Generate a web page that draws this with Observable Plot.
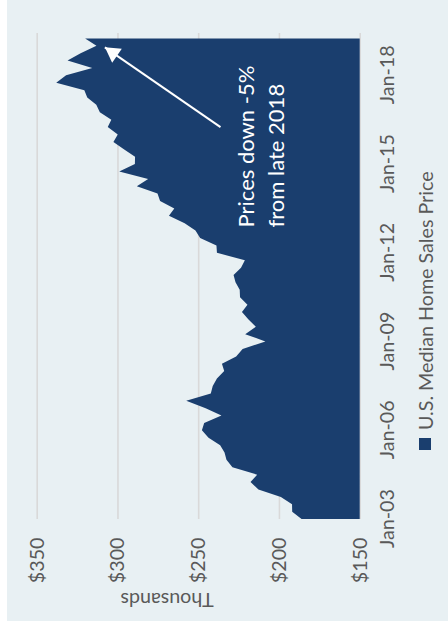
<!DOCTYPE html>
<html><head><meta charset="utf-8">
<script src="https://cdn.jsdelivr.net/npm/d3@7"></script>
<script src="https://cdn.jsdelivr.net/npm/@observablehq/plot@0.6"></script>
<style>
html,body{margin:0;padding:0;background:#fff;overflow:hidden;width:448px;height:640px}
#rot{position:absolute;left:0;top:0;width:640px;height:448px;transform-origin:0 0;transform:translateY(640px) rotate(-90deg);background:#fff}
#panel{position:absolute;left:19px;top:7px;width:621px;height:441px;background:#e8f0f3;font-family:Lato,sans-serif;color:#595959}
#chart{position:absolute;left:0;top:0}
#legend{position:absolute;left:171px;top:406px;height:24px;display:flex;align-items:center;font-size:19.7px;white-space:nowrap}
#legend .sw{display:inline-block;width:12px;height:12px;background:#1a3e6e;margin-right:8px}
</style></head><body>
<div id="rot"><div id="panel"><div id="chart"></div><div id="legend"><span class="sw"></span><span id="legtext"></span></div></div></div>
<script>
const quarters = [
  "2003-01-01","2003-04-01","2003-07-01","2003-10-01",
  "2004-01-01","2004-04-01","2004-07-01","2004-10-01",
  "2005-01-01","2005-04-01","2005-07-01","2005-10-01",
  "2006-01-01","2006-04-01","2006-07-01","2006-10-01",
  "2007-01-01","2007-04-01","2007-07-01","2007-10-01",
  "2008-01-01","2008-04-01","2008-07-01","2008-10-01",
  "2009-01-01","2009-04-01","2009-07-01","2009-10-01",
  "2010-01-01","2010-04-01","2010-07-01","2010-10-01",
  "2011-01-01","2011-04-01","2011-07-01","2011-10-01",
  "2012-01-01","2012-04-01","2012-07-01","2012-10-01",
  "2013-01-01","2013-04-01","2013-07-01","2013-10-01",
  "2014-01-01","2014-04-01","2014-07-01","2014-10-01",
  "2015-01-01","2015-04-01","2015-07-01","2015-10-01",
  "2016-01-01","2016-04-01","2016-07-01","2016-10-01",
  "2017-01-01","2017-04-01","2017-07-01","2017-10-01",
  "2018-01-01","2018-04-01","2018-07-01","2018-10-01",
  "2019-01-01","2019-04-01"
];
const prices = [
  186.0, 191.8, 191.9, 198.8,
  212.7, 217.6, 213.5, 228.8,
  232.5, 233.7, 236.4, 243.6,
  247.7, 246.3, 235.6, 245.4,
  257.4, 242.2, 241.0, 238.4,
  233.9, 235.3, 226.5, 222.5,
  208.4, 220.9, 214.3, 219.0,
  222.9, 219.5, 224.1, 224.3,
  226.9, 228.1, 223.5, 221.1,
  238.4, 238.7, 248.8, 251.7,
  258.4, 268.1, 264.8, 273.6,
  275.2, 288.0, 281.0, 298.9,
  289.2, 289.1, 295.8, 302.5,
  299.8, 306.0, 303.8, 310.9,
  313.1, 318.7, 320.5, 337.9,
  331.8, 315.6, 330.9, 322.8,
  313.0, 320.0
];
const seriesName = "U.S. Median Home Sales Price";
const tickDates = ["2003-01-01","2006-01-01","2009-01-01","2012-01-01","2015-01-01","2018-01-01"];
const tickLabels = ["Jan-03","Jan-06","Jan-09","Jan-12","Jan-15","Jan-18"];
const valueTicks = [150, 200, 250, 300, 350];
const valueLabels = ["$150","$200","$250","$300","$350"];
const yTitle = "Thousands";
const noteLines = ["Prices down -5%", "from late 2018"];
const noteAt = {date: "2012-11-03", value: 197.3};
const arrowFrom = {date: "2016-03-25", value: 236.5};
const arrowTo = {date: "2018-12-06", value: 308.1};

const blue = "#1a3e6e";
const grey = "#595959";
const fs = 19.7;

const data = quarters.map((q, i) => ({date: new Date(q), value: prices[i]}));
const xTicks = tickDates.map(d => new Date(d));
const xLabel = new Map(xTicks.map((d, i) => [+d, tickLabels[i]]));
const yLabel = new Map(valueTicks.map((v, i) => [v, valueLabels[i]]));
const arrows = [{x1: new Date(arrowFrom.date), y1: arrowFrom.value, x2: new Date(arrowTo.date), y2: arrowTo.value}];
const notes = [{date: new Date(noteAt.date), value: noteAt.value, text: noteLines.join("\n")}];

document.getElementById("legtext").textContent = seriesName;

const chart = Plot.plot({
  width: 621,
  height: 400,
  marginLeft: 102,
  marginRight: 33,
  marginTop: 29.7,
  marginBottom: 47.3,
  style: {fontFamily: "Lato, sans-serif", fontSize: fs + "px", color: grey, background: "transparent", overflow: "visible"},
  x: {type: "utc", domain: [new Date("2003-01-01"), new Date("2019-06-07")]},
  y: {domain: [150, 350]},
  marks: [
    Plot.gridY(valueTicks, {stroke: "#d9d9d9", strokeOpacity: 1, strokeWidth: 1.6}),
    Plot.areaY(data, {x: "date", y1: 150, y2: "value", fill: blue}),
    Plot.axisY(valueTicks, {tickSize: 0, tickPadding: 19, tickFormat: d => yLabel.get(d), label: null, fill: grey, fontSize: fs}),
    Plot.axisX(xTicks, {tickSize: 0, tickPadding: 20, tickFormat: d => xLabel.get(+d), label: null, fill: grey, fontSize: fs}),
    Plot.text([yTitle], {frameAnchor: "left", dx: -74, dy: -31.6, rotate: -90, lineAnchor: "bottom", textAnchor: "middle", fill: grey, fontSize: fs}),
    Plot.link(arrows, {x1: "x1", y1: "y1", x2: "x2", y2: "y2", stroke: "white", strokeWidth: 2}),
    Plot.dot(arrows, {x: "x2", y: "y2", symbol: "triangle", r: 6.3, fill: "white", stroke: null, rotate: 34.7, dx: -5.6, dy: 8.1}),
    Plot.text(notes, {x: "date", y: "value", text: "text", textAnchor: "start", lineAnchor: "bottom", lineHeight: 1.364, fill: "white", fontSize: 22})
  ]
});
document.getElementById("chart").appendChild(chart);
</script>
</body></html>
